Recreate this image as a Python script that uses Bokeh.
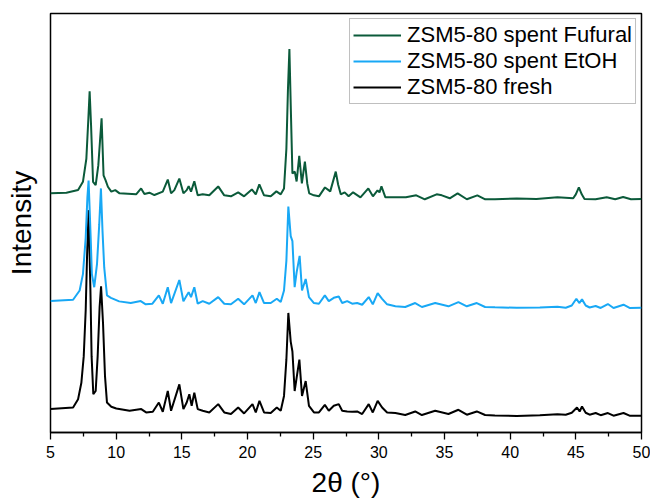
from bokeh.plotting import figure
from bokeh.models import Range1d, FixedTicker, Legend, LegendItem
from bokeh.embed import file_html
from bokeh.resources import INLINE

# ---- data (2theta in degrees, intensity in arbitrary units, stacked) ----
fresh_2t = [5.0, 6.72, 7.10, 7.35, 7.53, 7.68, 7.78, 7.90, 8.04, 8.13, 8.26, 8.44, 8.59, 8.74, 8.85,
            9.00, 9.15, 9.30, 9.63, 10.01, 11.02, 11.91, 12.28, 12.79, 13.25, 13.55, 13.93, 14.18,
            14.81, 15.12, 15.37, 15.57, 15.75, 15.95, 16.21, 16.59, 17.09, 17.77, 18.23, 18.74,
            19.29, 19.74, 20.38, 20.63, 20.91, 21.26, 21.77, 22.23, 22.53, 22.78, 22.96, 23.11,
            23.29, 23.42, 23.59, 23.74, 23.95, 24.15, 24.43, 24.68, 25.06, 25.44, 25.89, 26.19,
            26.57, 26.95, 27.21, 27.59, 27.97, 28.35, 28.73, 29.23, 29.54, 29.91, 30.25, 30.63,
            31.26, 32.01, 32.77, 33.28, 34.29, 35.30, 36.06, 36.70, 37.46, 38.09, 38.84, 40.5,
            42.26, 43.6, 44.23, 44.69, 45.09, 45.29, 45.47, 45.75, 46.05, 46.51, 46.89, 47.44,
            47.87, 48.63, 49.09, 50.0]
fresh_I = [23.7, 25.3, 33.7, 50.3, 77, 123.7, 177, 225, 143.7, 77, 38.7, 42, 77, 127, 148,
           110.3, 57, 30.3, 26, 24.3, 22, 23.7, 20.3, 21, 30.3, 21, 42, 22,
           48.7, 23.7, 30.3, 38.7, 27, 40.3, 23.7, 22, 20.3, 28.7, 20.3, 18.7,
           25.3, 19.3, 28.7, 20.3, 32, 20.3, 19.7, 25.3, 22, 37, 73.7, 121,
           92, 82, 42, 55.3, 73.7, 37, 52, 27, 20.3, 20.3, 28, 22,
           27, 28.7, 22, 21.3, 21, 21.3, 18.7, 28.7, 20.3, 32, 25.3, 20.3,
           19.7, 17.7, 21.3, 17.7, 22, 18.7, 23, 18, 21.3, 17.7, 17.3, 16.8,
           17.5, 18.5, 18, 20, 25.3, 21.3, 26.3, 20, 18, 19.7, 17.5, 19.7,
           17, 19.7, 17, 17]

etoh_2t = [5.0, 6.72, 7.22, 7.47, 7.68, 7.81, 7.90, 8.06, 8.15, 8.33, 8.54, 8.71, 8.84, 8.96,
           9.09, 9.30, 9.60, 10.23, 11.11, 11.87, 12.25, 12.76, 13.25, 13.55, 13.93, 14.18,
           14.81, 15.12, 15.37, 15.52, 15.70, 15.95, 16.21, 16.59, 17.09, 17.77, 18.23, 18.74,
           19.29, 19.74, 20.38, 20.63, 20.91, 21.26, 21.77, 22.23, 22.53, 22.78, 22.96, 23.11,
           23.29, 23.42, 23.59, 23.74, 23.97, 24.15, 24.43, 24.68, 25.06, 25.44, 25.89, 26.19,
           26.57, 26.95, 27.21, 27.59, 27.97, 28.35, 28.73, 29.23, 29.54, 29.91, 30.25, 30.63,
           31.26, 32.01, 32.77, 33.28, 34.29, 35.30, 36.06, 36.70, 37.46, 38.09, 38.84, 40.5,
           42.26, 43.6, 44.23, 44.69, 45.04, 45.26, 45.47, 45.75, 46.05, 46.51, 46.89, 47.44,
           47.87, 48.63, 49.09, 50.0]
etoh_I = [133, 134.3, 143.7, 160.3, 197, 238, 255, 197, 160.3, 147, 170.3, 210.3, 247, 204,
          167, 138.7, 136.3, 132.7, 131, 133, 129.7, 130.3, 138.7, 130.3, 147, 131,
          154.3, 132.7, 138.7, 142, 137, 147, 130.3, 133, 130.3, 137, 130.3, 129.7,
          135.3, 129.7, 138.7, 131, 142, 131, 131, 135.3, 132, 143.7, 173.7, 228.7,
          198.7, 193.7, 147, 162, 178.7, 143.7, 155.3, 137, 131, 130.3, 138.7, 133,
          136.3, 137.7, 131, 133, 130.3, 131, 129.3, 137, 129.7, 141, 135.3, 129.7,
          127.7, 127, 131, 127, 131, 127.7, 132, 127.7, 131, 127, 126.7, 126.2,
          126.5, 127.2, 126.3, 128.5, 135.3, 131, 134.7, 128.5, 126.5, 128, 126, 130,
          126, 129.3, 126, 126.3]

furf_2t = [5.0, 6.21, 7.10, 7.47, 7.73, 7.88, 7.98, 8.09, 8.24, 8.44, 8.64, 8.89, 9.04, 9.19,
           9.37, 9.63, 9.93, 10.26, 11.52, 11.90, 12.15, 12.53, 12.91, 13.55, 13.93, 14.18,
           14.43, 14.81, 15.12, 15.37, 15.52, 15.70, 15.95, 16.21, 16.59, 17.09, 17.77, 18.23,
           18.74, 19.29, 19.74, 20.33, 20.63, 20.90, 21.26, 21.77, 22.20, 22.53, 22.78, 22.96,
           23.08, 23.19, 23.30, 23.42, 23.60, 23.74, 23.94, 24.14, 24.37, 24.55, 24.70, 25.06,
           25.44, 25.90, 26.30, 26.72, 26.90, 27.10, 27.40, 27.70, 28.04, 28.60, 29.20, 29.55,
           29.90, 30.05, 30.20, 30.50, 31.25, 32.06, 32.85, 33.50, 34.40, 34.80, 35.40, 36.00,
           36.70, 37.50, 38.10, 38.84, 40.5, 42.00, 43.60, 44.80, 45.00, 45.23, 45.45, 45.66,
           46.50, 47.35, 48.00, 48.60, 49.20, 50.0]
furf_I = [242, 242.7, 245.3, 253.7, 277, 317, 345.3, 310.3, 253.7, 250.3, 270.3, 318, 260.3, 255.3,
          248.7, 243.7, 245.3, 242, 241, 247, 241.3, 242.7, 240.3, 243.7, 256, 242,
          245.3, 257, 242, 245.3, 249.3, 243.7, 254.3, 240, 241, 240, 249, 240,
          239, 243, 239, 246, 241, 251, 240, 239, 244, 241, 247, 287,
          347, 388, 327, 262, 264, 254, 280, 252, 274, 252, 242, 240,
          239, 248, 244, 264, 251, 241, 243, 239, 243, 238, 247, 239,
          245, 243, 249, 238, 238, 238, 240, 236, 241, 240, 237, 242,
          236, 240, 236, 236, 236.8, 236.3, 238, 237, 241, 248, 241, 236.3,
          236, 238, 236, 238.3, 236, 236.3]

series_names = ["ZSM5-80 spent Fufural", "ZSM5-80 spent EtOH", "ZSM5-80 fresh"]
series_colors = ["#0b5a3a", "#18a8f5", "#000000"]
x_ticks = [5, 10, 15, 20, 25, 30, 35, 40, 45, 50]
x_minor = [7.5, 12.5, 17.5, 22.5, 27.5, 32.5, 37.5, 42.5, 47.5]

FONT = "Liberation Sans"

p = figure(width=650, height=500, output_backend="svg", toolbar_location=None,
           x_range=Range1d(5, 50), y_range=Range1d(0, 424),
           min_border_left=50, min_border_right=9, min_border_top=13, min_border_bottom=64)
p.background_fill_color = "white"
p.border_fill_color = "white"
p.outline_line_color = "black"
p.outline_line_width = 1.5
p.xgrid.visible = False
p.ygrid.visible = False

r_fresh = p.line(fresh_2t, fresh_I, line_color=series_colors[2], line_width=2)
r_etoh = p.line(etoh_2t, etoh_I, line_color=series_colors[1], line_width=2)
r_furf = p.line(furf_2t, furf_I, line_color=series_colors[0], line_width=2)

xa = p.xaxis[0]
xa.ticker = FixedTicker(ticks=x_ticks, minor_ticks=x_minor)
xa.axis_label = "2θ (°)"
xa.axis_label_text_font = FONT
xa.axis_label_text_font_size = "28px"
xa.axis_label_text_font_style = "normal"
xa.axis_label_text_color = "black"
xa.axis_label_standoff = 6
xa.major_label_text_font = FONT
xa.major_label_text_font_size = "16px"
xa.major_label_text_color = "black"
xa.major_label_standoff = 6
xa.axis_line_color = "black"
xa.axis_line_width = 1.5
xa.major_tick_line_color = "black"
xa.major_tick_line_width = 1.3
xa.major_tick_out = 7
xa.major_tick_in = 0
xa.minor_tick_line_color = "black"
xa.minor_tick_line_width = 1.3
xa.minor_tick_out = 4
xa.minor_tick_in = 0

ya = p.yaxis[0]
ya.ticker = FixedTicker(ticks=[])
ya.axis_label = "Intensity"
ya.axis_label_text_font = FONT
ya.axis_label_text_font_size = "28px"
ya.axis_label_text_font_style = "normal"
ya.axis_label_text_color = "black"
ya.axis_label_standoff = 14
ya.axis_line_color = None
ya.major_tick_line_color = None
ya.minor_tick_line_color = None
ya.major_label_text_font_size = "0px"

legend = Legend(items=[
    LegendItem(label=series_names[0], renderers=[r_furf]),
    LegendItem(label=series_names[1], renderers=[r_etoh]),
    LegendItem(label=series_names[2], renderers=[r_fresh]),
], location="top_right")
legend.label_text_font = FONT
legend.label_text_font_size = "22px"
legend.label_text_color = "black"
legend.glyph_width = 48
legend.glyph_height = 26
legend.label_height = 26
legend.label_standoff = 6
legend.spacing = 0
legend.padding = 3
legend.margin = 5
legend.border_line_color = "#808080"
legend.border_line_width = 1
legend.background_fill_color = "white"
legend.background_fill_alpha = 1
p.add_layout(legend)

open("out.html", "w").write(file_html(p, INLINE))
